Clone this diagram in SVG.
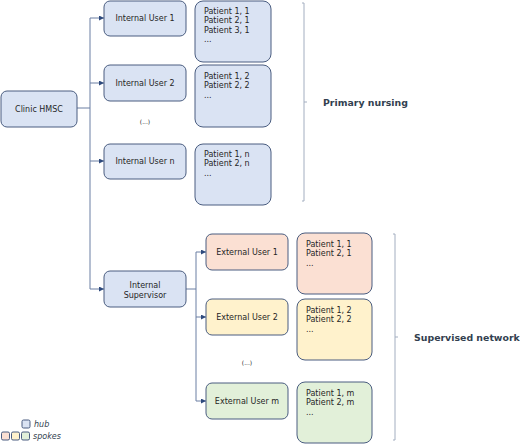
<svg xmlns="http://www.w3.org/2000/svg" width="520" height="444" viewBox="0 0 520 444">
<defs>
<marker id="arr" viewBox="0 0 6 6" refX="6" refY="3" markerWidth="5" markerHeight="5" orient="auto" markerUnits="userSpaceOnUse">
<path d="M0,0 L6,3 L0,6 Z" fill="#2e4a7d"/>
</marker>
<style>
text{font-family:"DejaVu Sans",Verdana,sans-serif;font-size:8px;fill:#262626}
.c{text-anchor:middle}
.node{stroke:#4a5d80;stroke-width:1}
.hub{fill:#dae3f3}
.s1{fill:#fbe0d3}
.s2{fill:#fff2cc}
.s3{fill:#e2f0d9}
.conn{fill:none;stroke:#6b7ea3;stroke-width:1}
.brk{fill:none;stroke:#a3aec0;stroke-width:1}
.lbl{font-weight:bold;font-size:9.4px;fill:#333f50}
.leg{font-style:italic;fill:#333f50}
</style>
</defs>
<rect width="520" height="444" fill="#ffffff"/>

<g id="connectors">
<polyline class="conn" points="77,108 90,108"/>
<line class="conn" x1="90" y1="18" x2="90" y2="289"/>
<line class="conn" x1="90" y1="18" x2="104" y2="18" marker-end="url(#arr)"/>
<line class="conn" x1="90" y1="83" x2="104" y2="83" marker-end="url(#arr)"/>
<line class="conn" x1="90" y1="161" x2="104" y2="161" marker-end="url(#arr)"/>
<line class="conn" x1="90" y1="289" x2="104" y2="289" marker-end="url(#arr)"/>
<polyline class="conn" points="186,289 196,289"/>
<line class="conn" x1="196" y1="252" x2="196" y2="401"/>
<line class="conn" x1="196" y1="252" x2="206" y2="252" marker-end="url(#arr)"/>
<line class="conn" x1="196" y1="317" x2="206" y2="317" marker-end="url(#arr)"/>
<line class="conn" x1="196" y1="401" x2="206" y2="401" marker-end="url(#arr)"/>
</g>

<g id="clinic">
<rect class="node hub" x="1" y="91" width="76" height="36" rx="6"/>
<text class="c" x="39" y="112">Clinic HMSC</text>
</g>

<g id="internal-user-1">
<rect class="node hub" x="104" y="1" width="82" height="35" rx="6"/>
<text class="c" x="145" y="21">Internal User 1</text>
</g>
<g id="internal-user-2">
<rect class="node hub" x="104" y="65" width="82" height="36" rx="6"/>
<text class="c" x="145" y="86">Internal User 2</text>
</g>
<g id="internal-ellipsis">
<text class="c" x="145" y="124" style="font-size:6px">(...)</text>
</g>
<g id="internal-user-n">
<rect class="node hub" x="104" y="144" width="82" height="35" rx="6"/>
<text class="c" x="145" y="164">Internal User n</text>
</g>

<g id="patients-1">
<rect class="node hub" x="195" y="1" width="76" height="61" rx="8"/>
<text x="204" y="14">Patient 1, 1</text>
<text x="204" y="23.3">Patient 2, 1</text>
<text x="204" y="32.6">Patient 3, 1</text>
<text x="204" y="42">...</text>
</g>
<g id="patients-2">
<rect class="node hub" x="195" y="65" width="76" height="62" rx="8"/>
<text x="204" y="79">Patient 1, 2</text>
<text x="204" y="88.3">Patient 2, 2</text>
<text x="204" y="97.6">...</text>
</g>
<g id="patients-n">
<rect class="node hub" x="195" y="144" width="76" height="61" rx="8"/>
<text x="204" y="157">Patient 1, n</text>
<text x="204" y="166.3">Patient 2, n</text>
<text x="204" y="175.6">...</text>
</g>

<g id="primary-nursing">
<polyline class="brk" points="302,3 304,3 304,201 302,201"/>
<line class="brk" x1="304" y1="102" x2="307" y2="102"/>
<text class="lbl" x="323" y="106">Primary nursing</text>
</g>

<g id="internal-supervisor">
<rect class="node hub" x="104" y="271" width="82" height="36" rx="6"/>
<text class="c" x="145" y="288">Internal</text>
<text class="c" x="145" y="297.5">Supervisor</text>
</g>

<g id="external-user-1">
<rect class="node s1" x="206" y="234" width="82" height="36" rx="6"/>
<text class="c" x="247" y="255">External User 1</text>
</g>
<g id="external-user-2">
<rect class="node s2" x="206" y="299" width="82" height="36" rx="6"/>
<text class="c" x="247" y="320">External User 2</text>
</g>
<g id="external-ellipsis">
<text class="c" x="247" y="365" style="font-size:6px">(...)</text>
</g>
<g id="external-user-m">
<rect class="node s3" x="206" y="383" width="82" height="36" rx="6"/>
<text class="c" x="247" y="404">External User m</text>
</g>

<g id="ext-patients-1">
<rect class="node s1" x="297" y="233" width="75" height="61" rx="8"/>
<text x="306" y="247">Patient 1, 1</text>
<text x="306" y="256.3">Patient 2, 1</text>
<text x="306" y="265.6">...</text>
</g>
<g id="ext-patients-2">
<rect class="node s2" x="297" y="299" width="75" height="61" rx="8"/>
<text x="306" y="313">Patient 1, 2</text>
<text x="306" y="322.3">Patient 2, 2</text>
<text x="306" y="331.6">...</text>
</g>
<g id="ext-patients-m">
<rect class="node s3" x="297" y="382" width="75" height="61" rx="8"/>
<text x="306" y="396">Patient 1, m</text>
<text x="306" y="405.3">Patient 2, m</text>
<text x="306" y="414.6">...</text>
</g>

<g id="supervised-network">
<polyline class="brk" points="393,234 395,234 395,440 393,440"/>
<line class="brk" x1="395" y1="337" x2="398" y2="337"/>
<text class="lbl" x="414" y="341">Supervised network</text>
</g>

<g id="legend">
<rect class="node hub" x="22" y="420" width="8" height="8" rx="1.5"/>
<text class="leg" x="34" y="427">hub</text>
<rect class="node s1" x="1.5" y="432" width="8" height="8" rx="1.5"/>
<rect class="node s2" x="11.5" y="432" width="8" height="8" rx="1.5"/>
<rect class="node s3" x="21.5" y="432" width="8" height="8" rx="1.5"/>
<text class="leg" x="33" y="439">spokes</text>
</g>
</svg>
